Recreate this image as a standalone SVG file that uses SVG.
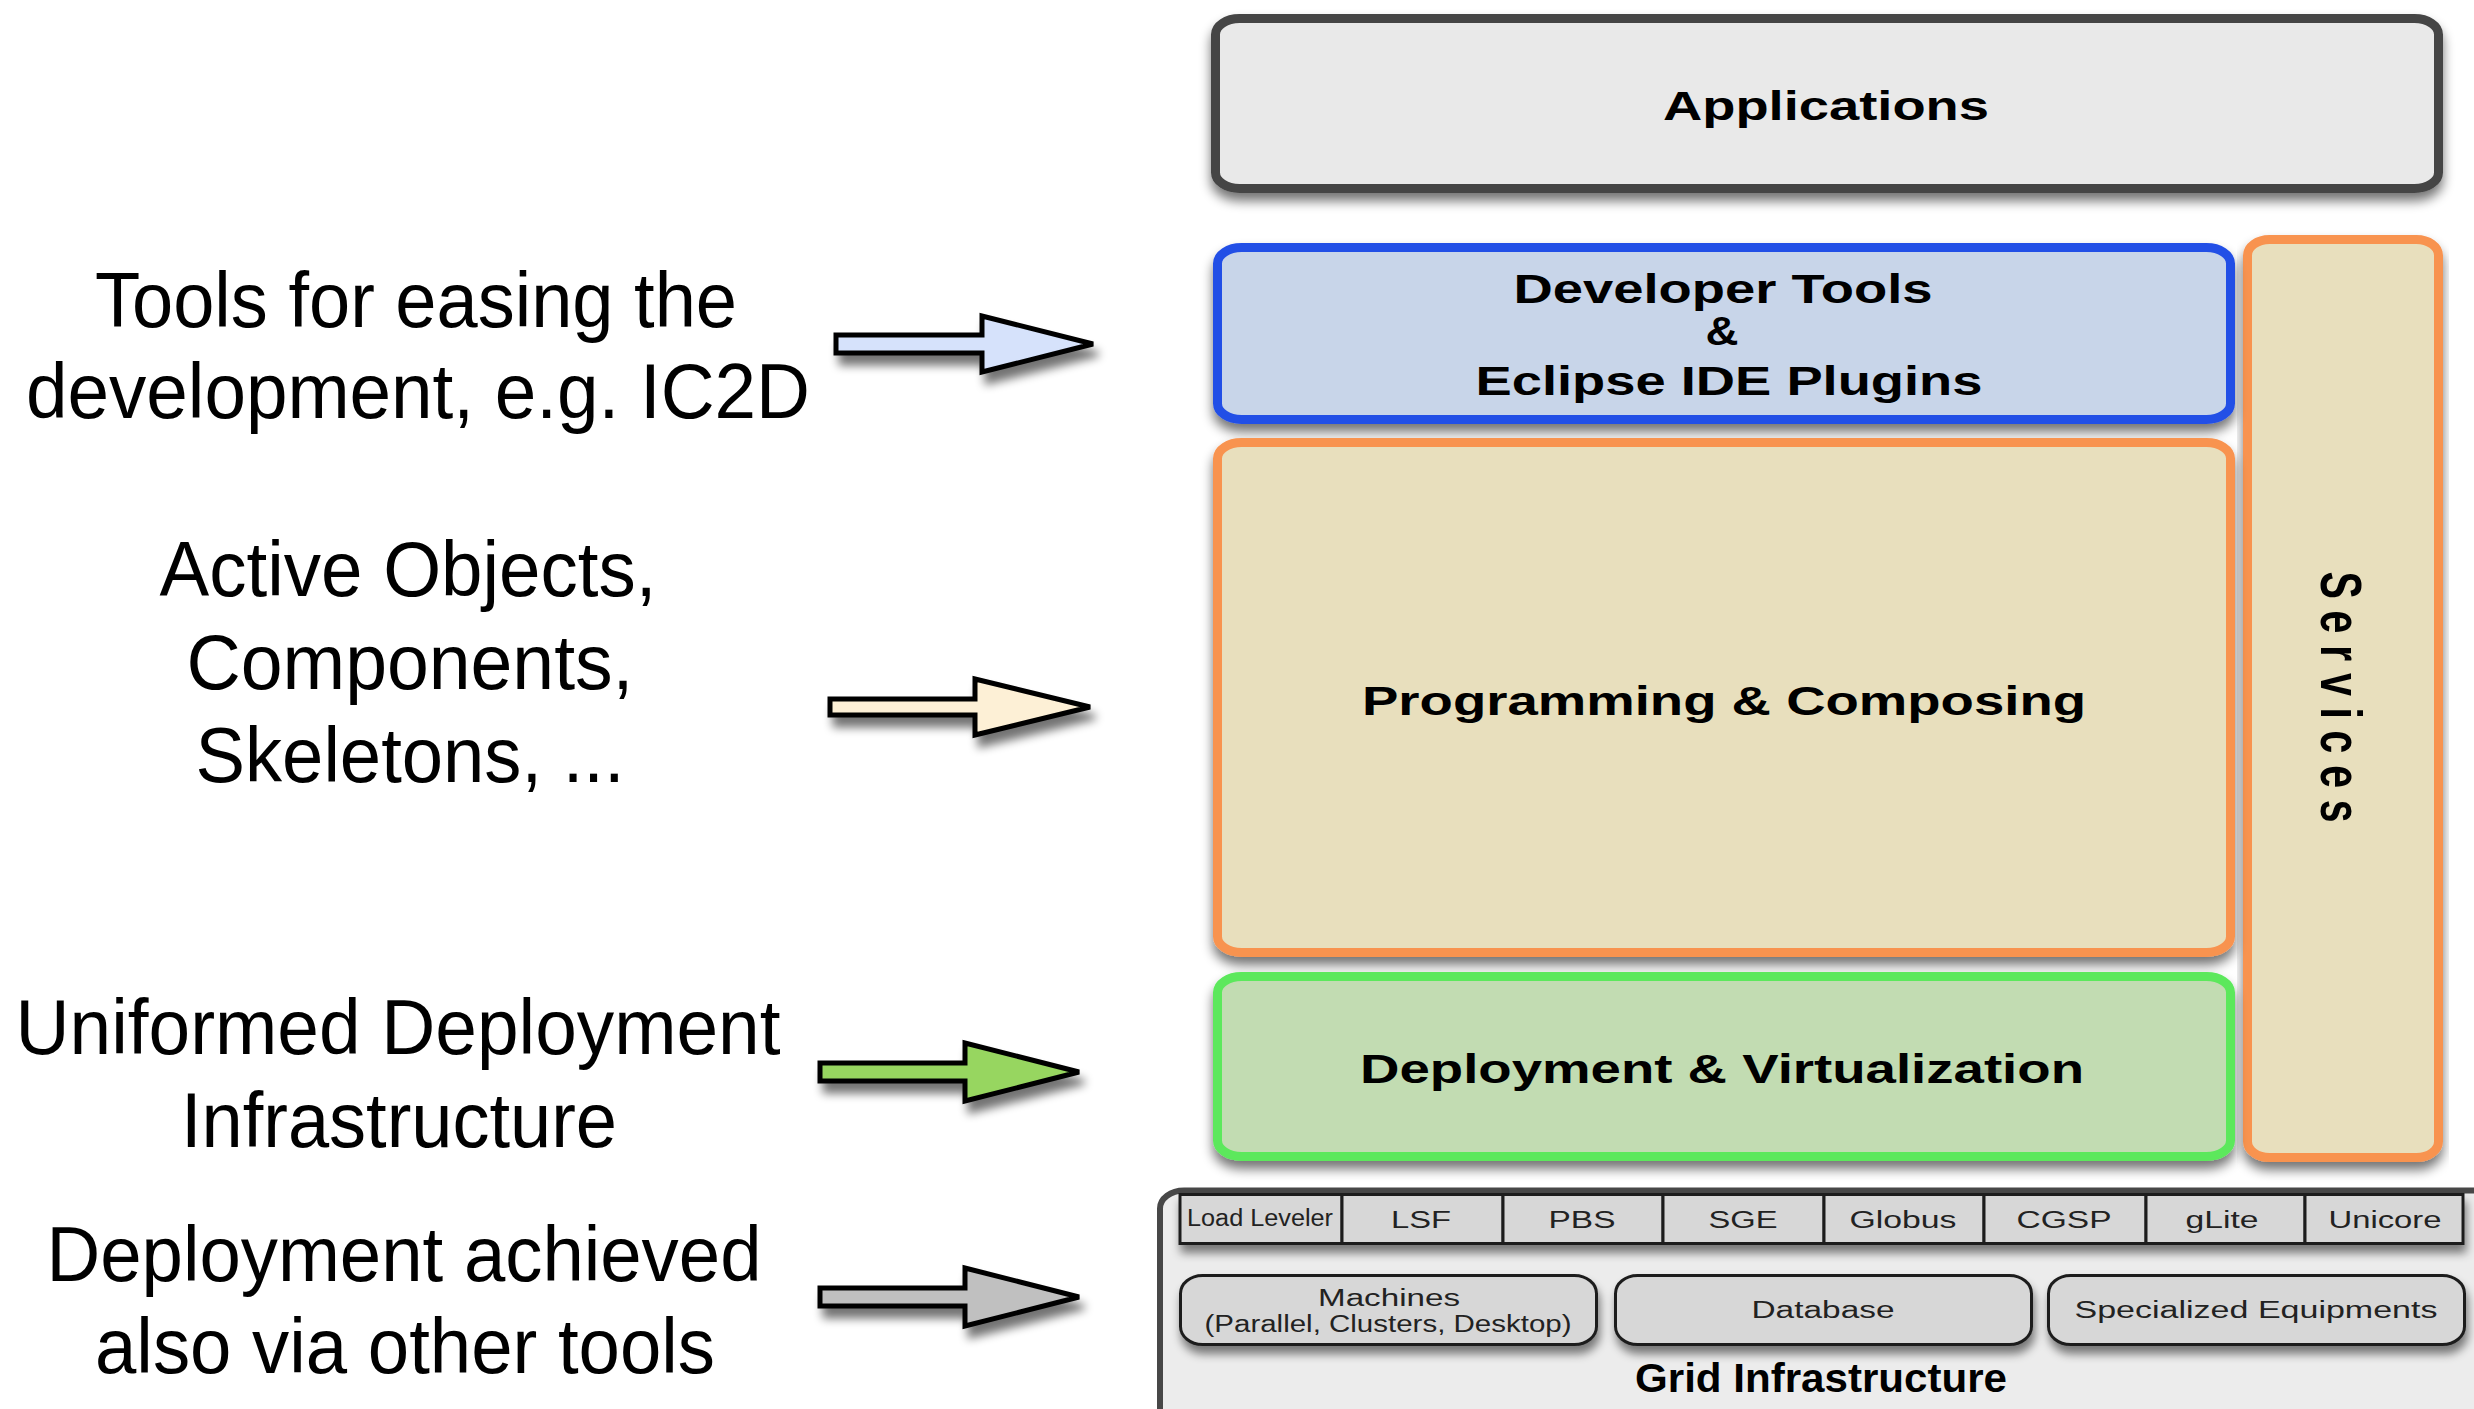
<svg xmlns="http://www.w3.org/2000/svg" width="2474" height="1409" viewBox="0 0 2474 1409">
  <defs>
    <filter id="boxShadow" x="-5%" y="-10%" width="110%" height="130%">
      <feGaussianBlur in="SourceAlpha" stdDeviation="6"/>
      <feOffset dx="0" dy="8" result="b"/>
      <feComponentTransfer><feFuncA type="linear" slope="0.55"/></feComponentTransfer>
      <feMerge><feMergeNode/><feMergeNode in="SourceGraphic"/></feMerge>
    </filter>
    <filter id="smallShadow" x="-10%" y="-20%" width="120%" height="160%">
      <feGaussianBlur in="SourceAlpha" stdDeviation="5"/>
      <feOffset dx="2" dy="8" result="b"/>
      <feComponentTransfer><feFuncA type="linear" slope="0.5"/></feComponentTransfer>
      <feMerge><feMergeNode/><feMergeNode in="SourceGraphic"/></feMerge>
    </filter>
    <filter id="arrowShadow" x="-10%" y="-40%" width="130%" height="200%">
      <feGaussianBlur in="SourceAlpha" stdDeviation="5"/>
      <feOffset dx="5" dy="10" result="b"/>
      <feComponentTransfer><feFuncA type="linear" slope="0.55"/></feComponentTransfer>
      <feMerge><feMergeNode/><feMergeNode in="SourceGraphic"/></feMerge>
    </filter>
  </defs>
  <style>
    .side { font-family: "Liberation Sans", Arial, Helvetica, sans-serif; font-size: 78px; fill: #000; text-anchor: middle; }
    .layer { stroke-width: 9; filter: url(#boxShadow); }
    .bold { font-family: "Liberation Sans", Arial, Helvetica, sans-serif; font-weight: bold; font-size: 41px; fill: #000; text-anchor: middle; }
    .cell { fill: #d7d7d7; stroke: #1e1e1e; stroke-width: 3; }
    .res { fill: #d7d7d7; stroke: #1e1e1e; stroke-width: 3; }
    .small { font-family: "Liberation Sans", Arial, Helvetica, sans-serif; font-size: 23px; fill: #222; text-anchor: middle; }
    .arrow { stroke: #000; stroke-width: 5; stroke-linejoin: miter; filter: url(#arrowShadow); }
  </style>

  <rect width="2474" height="1409" fill="#ffffff"/>

  <!-- explanatory captions on the left -->
  <g id="caption-tools">
    <text class="side" x="416" y="327" textLength="642" lengthAdjust="spacingAndGlyphs">Tools for easing the</text>
    <text class="side" x="418" y="418" textLength="784" lengthAdjust="spacingAndGlyphs">development, e.g. IC2D</text>
  </g>
  <g id="caption-programming">
    <text class="side" x="408" y="596" textLength="497" lengthAdjust="spacingAndGlyphs">Active Objects,</text>
    <text class="side" x="410" y="689" textLength="447" lengthAdjust="spacingAndGlyphs">Components,</text>
    <text class="side" x="410" y="782" textLength="429" lengthAdjust="spacingAndGlyphs">Skeletons, ...</text>
  </g>
  <g id="caption-deployment">
    <text class="side" x="398" y="1054" textLength="765" lengthAdjust="spacingAndGlyphs">Uniformed Deployment</text>
    <text class="side" x="399" y="1147" textLength="436" lengthAdjust="spacingAndGlyphs">Infrastructure</text>
  </g>
  <g id="caption-other-tools">
    <text class="side" x="404" y="1281" textLength="715" lengthAdjust="spacingAndGlyphs">Deployment achieved</text>
    <text class="side" x="405" y="1373" textLength="620" lengthAdjust="spacingAndGlyphs">also via other tools</text>
  </g>

  <!-- block arrows pointing at the layers -->
  <g id="connectors">
    <path class="arrow" fill="#d6e2fb" d="M836,335 H982 V316 L1093,344 L982,372 V353 H836 Z"/>
    <path class="arrow" fill="#fdf0d6" d="M830,699 H975 V679 L1090,707 L975,735 V715 H830 Z"/>
    <path class="arrow" fill="#97d660" d="M820,1063 H965 V1043 L1079,1072 L965,1101 V1081 H820 Z"/>
    <path class="arrow" fill="#c0c0c0" d="M820,1288 H965 V1268 L1079,1297 L965,1326 V1306 H820 Z"/>
  </g>

  <!-- layer stack -->
  <g id="applications">
    <rect class="layer" x="1215.5" y="18.5" width="1223" height="170" rx="24" ry="16" fill="#e9e9e9" stroke="#454545"/>
    <text class="bold" x="1826" y="120" textLength="326" lengthAdjust="spacingAndGlyphs">Applications</text>
  </g>

  <g id="services">
    <rect class="layer" x="2247.5" y="239.5" width="191" height="918" rx="22" ry="16" fill="#e8dfbd" stroke="#f89350"/>
    <text class="bold" transform="translate(2321 697) rotate(90) scale(1 1.4)" x="0" y="0" font-size="42" textLength="251" lengthAdjust="spacing">Services</text>
  </g>

  <g id="developer-tools">
    <rect class="layer" x="1217.5" y="247.5" width="1013" height="172" rx="24" ry="16" fill="#c8d5e9" stroke="#2450e6"/>
    <text class="bold" x="1723" y="303" textLength="419" lengthAdjust="spacingAndGlyphs">Developer Tools</text>
    <text class="bold" x="1722" y="345" textLength="33" lengthAdjust="spacingAndGlyphs">&amp;</text>
    <text class="bold" x="1729" y="395" textLength="507" lengthAdjust="spacingAndGlyphs">Eclipse IDE Plugins</text>
  </g>

  <g id="programming">
    <rect class="layer" x="1217.5" y="442.5" width="1013" height="510" rx="24" ry="16" fill="#e8dfbd" stroke="#f89350"/>
    <text class="bold" x="1724" y="715" textLength="724" lengthAdjust="spacingAndGlyphs">Programming &amp; Composing</text>
  </g>

  <g id="deployment">
    <rect class="layer" x="1217.5" y="976.5" width="1013" height="180" rx="24" ry="16" fill="#c2dcb2" stroke="#5be85b"/>
    <text class="bold" x="1722" y="1083" textLength="724" lengthAdjust="spacingAndGlyphs">Deployment &amp; Virtualization</text>
  </g>

  <!-- grid infrastructure block -->
  <g id="grid-infrastructure">
    <rect x="1160" y="1190.5" width="1340" height="250" rx="24" ry="18" fill="#ececec" stroke="#474747" stroke-width="6"/>
    <g filter="url(#smallShadow)">
      <rect class="cell" x="1180" y="1194.5" width="162" height="49"/>
      <rect class="cell" x="1342" y="1194.5" width="161" height="49"/>
      <rect class="cell" x="1503" y="1194.5" width="160" height="49"/>
      <rect class="cell" x="1663" y="1194.5" width="161" height="49"/>
      <rect class="cell" x="1824" y="1194.5" width="160" height="49"/>
      <rect class="cell" x="1984" y="1194.5" width="162" height="49"/>
      <rect class="cell" x="2146" y="1194.5" width="159" height="49"/>
      <rect class="cell" x="2305" y="1194.5" width="158" height="49"/>
    </g>
    <text class="small" x="1260" y="1226" font-size="17" textLength="146" lengthAdjust="spacingAndGlyphs">Load Leveler</text>
    <text class="small" x="1421" y="1228" textLength="60" lengthAdjust="spacingAndGlyphs">LSF</text>
    <text class="small" x="1582" y="1228" textLength="67" lengthAdjust="spacingAndGlyphs">PBS</text>
    <text class="small" x="1743" y="1228" textLength="69" lengthAdjust="spacingAndGlyphs">SGE</text>
    <text class="small" x="1903" y="1228" textLength="107" lengthAdjust="spacingAndGlyphs">Globus</text>
    <text class="small" x="2064" y="1228" textLength="95" lengthAdjust="spacingAndGlyphs">CGSP</text>
    <text class="small" x="2222" y="1228" textLength="73" lengthAdjust="spacingAndGlyphs">gLite</text>
    <text class="small" x="2385" y="1228" textLength="113" lengthAdjust="spacingAndGlyphs">Unicore</text>

    <g filter="url(#smallShadow)">
      <rect class="res" x="1180.5" y="1275.5" width="416" height="69" rx="22" ry="18"/>
      <rect class="res" x="1615.5" y="1275.5" width="416" height="69" rx="22" ry="18"/>
      <rect class="res" x="2048.5" y="1275.5" width="416" height="69" rx="22" ry="18"/>
    </g>
    <text class="small" x="1389" y="1306" textLength="142" lengthAdjust="spacingAndGlyphs">Machines</text>
    <text class="small" x="1388" y="1332" font-size="21" textLength="367" lengthAdjust="spacingAndGlyphs">(Parallel, Clusters, Desktop)</text>
    <text class="small" x="1823" y="1318" textLength="143" lengthAdjust="spacingAndGlyphs">Database</text>
    <text class="small" x="2256" y="1318" textLength="363" lengthAdjust="spacingAndGlyphs">Specialized Equipments</text>
    <text class="bold" x="1821" y="1392" font-size="30" textLength="372" lengthAdjust="spacingAndGlyphs">Grid Infrastructure</text>
  </g>
</svg>
